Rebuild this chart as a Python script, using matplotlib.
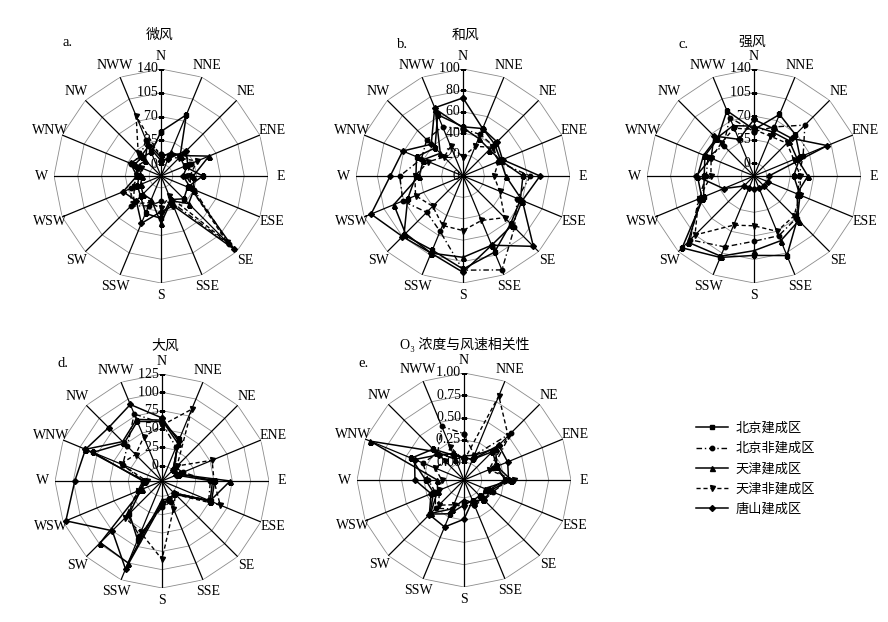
import numpy as np
import matplotlib
matplotlib.use('Agg')
import matplotlib.pyplot as plt
from matplotlib.lines import Line2D

W_PX, H_PX = 888, 622
SERIF = ['Liberation Serif', 'DejaVu Serif', 'Noto Sans CJK SC']
CJK = ['Noto Sans CJK SC', 'DejaVu Sans']

directions = ['N', 'NNE', 'NE', 'ENE', 'E', 'ESE', 'SE', 'SSE',
              'S', 'SSW', 'SW', 'WSW', 'W', 'WNW', 'NW', 'NWW']
series_names = ['北京建成区', '北京非建成区', '天津建成区', '天津非建成区', '唐山建成区']

# a. 微风
a_bj = [48, 80, 22, 20, 44, 25, 30, 20, 45, 42, 25, 20, 15, 25, 22, 20]
a_bjn = [15, 15, 30, 30, 20, 35, 125, 25, 20, 30, 45, 30, 15, 30, 25, 40]
a_tj = [10, 20, 25, 59, 30, 35, 40, 22, 52, 20, 20, 15, 10, 20, 15, 35]
a_tjn = [10, 12, 20, 40, 25, 30, 120, 15, 30, 25, 40, 25, 20, 15, 30, 78]
a_ts = [5, 10, 35, 25, 15, 30, 135, 30, 35, 58, 34, 43, 18, 31, 24, 30]

# b. 和风
b_bj = [46, 48, 42, 38, 56, 58, 63, 77, 87, 75, 78, 56, 44, 47, 37, 62]
b_bjn = [44, 42, 40, 35, 63, 55, 68, 95, 88, 56, 48, 61, 59, 42, 48, 50]
b_tj = [45, 38, 35, 38, 40, 60, 65, 70, 76, 78, 76, 70, 41, 40, 30, 68]
b_tjn = [18, 30, 38, 36, 29, 37, 55, 45, 51, 50, 40, 48, 45, 35, 25, 30]
b_ts = [73, 48, 45, 40, 72, 60, 93, 70, 90, 78, 80, 93, 68, 61, 42, 69]

# c. 强风
c_bj = [50, 80, 68, 55, 40, 55, 72, 109, 99, 112, 132, 62, 55, 60, 58, 86]
c_bjn = [47, 60, 88, 60, 48, 52, 70, 77, 78, 95, 115, 70, 52, 55, 45, 75]
c_tj = [55, 52, 55, 50, 61, 50, 75, 85, 92, 110, 120, 65, 65, 62, 60, 62]
c_tjn = [50, 45, 50, 45, 50, 55, 65, 70, 55, 60, 105, 70, 45, 50, 50, 58]
c_ts = [65, 57, 60, 99, 3, 4, 2, 0, 0, 0, 2, 30, 67, 50, 65, 40]

# d. 大风
d_bj = [60, 41, 0, 5, 51, 52, 5, 5, 10, 66, 42, 10, 5, 81, 52, 67]
d_bjn = [58, 29, 5, 10, 45, 48, 2, 10, 15, 60, 45, 15, 5, 37, 46, 78]
d_tj = [62, 35, 2, 3, 72, 50, 3, 5, 5, 100, 98, 8, 3, 92, 55, 70]
d_tjn = [55, 85, 8, 53, 50, 65, 5, 20, 86, 55, 50, 15, 0, 40, 30, 44]
d_ts = [65, 38, 0, 0, 48, 50, 2, 8, 10, 109, 75, 121, 98, 92, 82, 92]

# e. O3 浓度与风速相关性
e_bj = [0.05, 0.05, 0.25, 0.20, 0.26, 0.10, 0.05, 0.05, 0.08, 0.21, 0.34, 0.17, 0.23, 0.44, 0.29, 0.10]
e_bjn = [0.32, 0.10, 0.54, 0.15, 0.30, 0.15, 0.12, 0.10, 0.05, 0.15, 0.25, 0.15, 0.20, 0.30, 0.22, 0.45]
e_tj = [0.07, 0.10, 0.30, 0.20, 0.33, 0.05, 0.10, 0.08, 0.02, 0.15, 0.33, 0.12, 0.10, 0.94, 0.25, 0.05]
e_tjn = [0.02, 0.82, 0.50, 0.10, 0.36, 0.11, 0.08, 0.10, 0.10, 0.10, 0.20, 0.10, 0.05, 0.15, 0.10, 0.20]
e_ts = [0.05, 0.05, 0.35, 0.33, 0.30, 0.12, 0.12, 0.05, 0.24, 0.37, 0.35, 0.20, 0.35, 0.40, 0.20, 0.12]

a_ticks = [0, 35, 70, 105, 140]
b_ticks = [0, 20, 40, 60, 80, 100]
c_ticks = [0, 35, 70, 105, 140]
d_ticks = [0, 25, 50, 75, 100, 125]
e_ticks = [0.0, 0.25, 0.5, 0.75, 1.0]

styles = [
    dict(color='black', ls='-', marker='s', ms=3.2, lw=1.1),
    dict(color='black', ls=(0, (4, 2, 1, 2)), marker='o', ms=3.2, lw=1.0),
    dict(color='black', ls='-', marker='^', ms=3.6, lw=1.1),
    dict(color='black', ls=(0, (3, 2)), marker='v', ms=3.6, lw=1.0),
    dict(color='black', ls='-', marker='D', ms=3.0, lw=1.1),
]

fig = plt.figure(figsize=(W_PX / 100, H_PX / 100), dpi=100)
R_PX = 107


def fx(x):
    return x / W_PX


def fy(y):
    return 1 - y / H_PX


def radar(cx, cy, rmin, ticks, tick_fmt, data, title, tpos, letter, lpos):
    ax = fig.add_axes([fx(cx - R_PX), fy(cy + R_PX), 2 * R_PX / W_PX, 2 * R_PX / H_PX],
                      projection='polar')
    ax.set_theta_zero_location('N')
    ax.set_theta_direction(-1)
    rmax = ticks[-1]
    ax.set_ylim(rmin, rmax)
    ax.grid(False)
    ax.spines['polar'].set_visible(False)
    ax.set_xticks([])
    ax.set_yticks([])
    ax.patch.set_alpha(0)

    ang = np.linspace(0, 2 * np.pi, len(directions), endpoint=False)
    ring_ang = np.append(ang, ang[0])
    # 多边形网格
    for t in ticks:
        ax.plot(ring_ang, [t] * len(ring_ang), color='#8c8c8c', lw=0.6, zorder=1)
    # 放射线
    for a in ang:
        ax.plot([a, a], [rmin, rmax], color='black', lw=0.9, zorder=1)

    span = rmax - rmin
    for a, d in zip(ang, directions):
        ax.text(a, rmax + span * 0.12, d, ha='center', va='center',
                family=SERIF, fontsize=10, clip_on=False)

    # 径向刻度
    for t in ticks:
        ax.text(0, t, tick_fmt.format(t) + ' ', ha='right', va='center',
                family=SERIF, fontsize=10, zorder=2)
        ax.plot([0], [t], marker='_', ms=4, mew=0.8, color='black', zorder=2)

    lines = []
    for vals, st in zip(data, styles):
        v = list(vals) + [vals[0]]
        ln, = ax.plot(ring_ang, v, mfc='black', mec='black', zorder=3, **st)
        lines.append(ln)

    fig.text(fx(tpos[0]), fy(tpos[1]), title, ha='center', va='center',
             family=CJK if 'O' not in title else SERIF, fontsize=10)
    fig.text(fx(lpos[0]), fy(lpos[1]), letter, ha='center', va='center',
             family=SERIF, fontsize=10.5)
    return lines


radar(161, 176, -17.5, a_ticks, '{:g}', [a_bj, a_bjn, a_tj, a_tjn, a_ts],
      '微风', (160, 35), 'a.', (68, 43))
radar(463, 176, 0, b_ticks, '{:g}', [b_bj, b_bjn, b_tj, b_tjn, b_ts],
      '和风', (466, 35), 'b.', (403, 44))
radar(754, 176, -19, c_ticks, '{:g}', [c_bj, c_bjn, c_tj, c_tjn, c_ts],
      '强风', (752, 42), 'c.', (684, 44))
radar(162, 481, -21, d_ticks, '{:g}', [d_bj, d_bjn, d_tj, d_tjn, d_ts],
      '大风', (165, 346), 'd.', (63, 363))
radar(464, 480, -0.2, e_ticks, '{:.2f}', [e_bj, e_bjn, e_tj, e_tjn, e_ts],
      'O\u2083 浓度与风速相关性', (465, 344), 'e.', (363, 363))

handles = [Line2D([], [], mfc='black', mec='black', **st) for st in styles]
fig.legend(handles, series_names, loc='upper left',
           bbox_to_anchor=(fx(684), fy(410)), frameon=False,
           prop=dict(family=CJK, size=9.5), handlelength=2.4,
           labelspacing=0.55, handletextpad=0.6)

fig.savefig('out.png', dpi=100)
